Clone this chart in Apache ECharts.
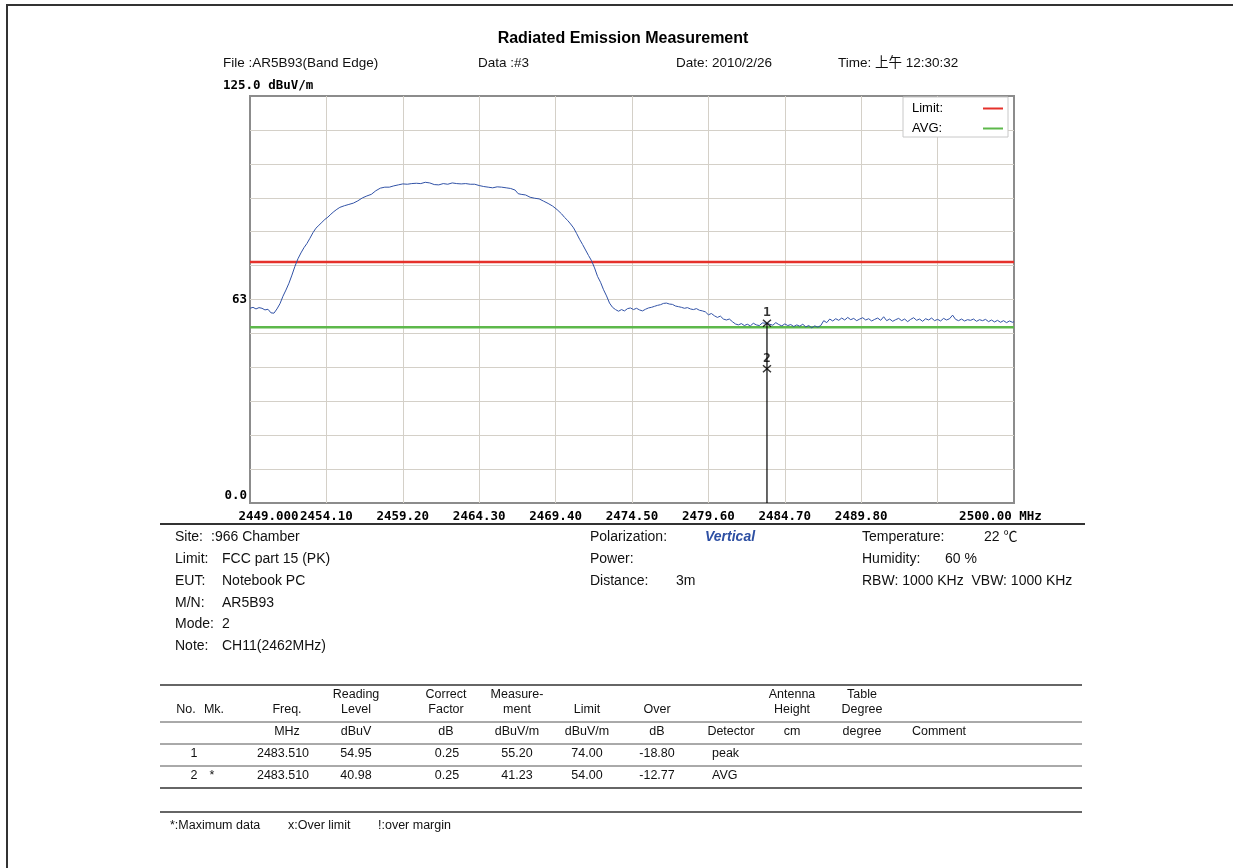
<!DOCTYPE html>
<html>
<head>
<meta charset="utf-8">
<title>Radiated Emission Measurement</title>
<script src="https://cdn.jsdelivr.net/npm/echarts@6/dist/echarts.min.js"></script>
<style>
  html, body { margin: 0; padding: 0; background: #fff; }
  #chart { width: 1233px; height: 868px; }
</style>
</head>
<body>
<div id="chart"></div>
<script>
// spectrum trace: [MHz, dBuV/m]
var trace = [
  [2449.0, 59.8], [2449.2, 60.1], [2449.4, 59.6], [2449.6, 60.0], [2449.8, 59.8], [2450.0, 59.3],
  [2450.2, 59.5], [2450.4, 58.4], [2450.5, 58.9], [2450.6, 58.3], [2450.8, 59.6], [2451.0, 61.2],
  [2451.2, 63.5], [2451.4, 65.4], [2451.6, 67.5], [2451.8, 70.0], [2452.0, 72.7], [2452.2, 75.0],
  [2452.4, 76.8], [2452.6, 78.4], [2452.8, 79.7], [2453.0, 81.3], [2453.2, 83.0], [2453.4, 84.4],
  [2453.6, 85.3], [2453.8, 86.2], [2454.0, 87.1], [2454.2, 87.8], [2454.4, 88.7], [2454.6, 89.5],
  [2454.8, 90.2], [2455.0, 90.8], [2455.3, 91.3], [2455.6, 91.7], [2455.9, 92.1], [2456.2, 92.8],
  [2456.5, 93.7], [2456.8, 94.3], [2457.1, 94.8], [2457.4, 95.9], [2457.7, 96.7], [2458.0, 97.0],
  [2458.3, 97.0], [2458.6, 97.4], [2458.9, 97.7], [2459.2, 98.0], [2459.5, 97.9], [2459.8, 98.1],
  [2460.1, 98.2], [2460.4, 98.1], [2460.7, 98.5], [2461.0, 98.3], [2461.3, 97.8], [2461.6, 97.7],
  [2461.9, 98.1], [2462.2, 97.9], [2462.5, 98.3], [2462.8, 98.1], [2463.1, 98.0], [2463.4, 98.1],
  [2463.7, 97.9], [2464.0, 97.9], [2464.3, 97.5], [2464.6, 97.2], [2464.9, 97.0], [2465.2, 96.8],
  [2465.5, 97.1], [2465.8, 97.0], [2466.1, 96.8], [2466.4, 96.6], [2466.7, 96.1], [2466.9, 95.0],
  [2467.1, 94.8], [2467.4, 94.6], [2467.7, 93.9], [2468.0, 93.6], [2468.3, 93.4], [2468.6, 92.7],
  [2468.9, 92.0], [2469.2, 91.2], [2469.5, 90.1], [2469.8, 88.8], [2470.0, 87.7], [2470.2, 86.8],
  [2470.4, 85.7], [2470.6, 84.5], [2470.8, 82.8], [2471.0, 81.0], [2471.2, 79.4], [2471.4, 77.7],
  [2471.6, 76.0], [2471.8, 74.4], [2472.0, 72.2], [2472.2, 69.6], [2472.4, 67.8], [2472.6, 65.5],
  [2472.8, 63.6], [2473.0, 61.4], [2473.2, 60.1], [2473.4, 59.4], [2473.6, 58.9], [2473.8, 59.4],
  [2474.0, 59.0], [2474.2, 59.7], [2474.4, 59.9], [2474.6, 59.4], [2474.8, 59.8], [2475.0, 59.3],
  [2475.2, 59.0], [2475.4, 59.5], [2475.6, 59.9], [2475.8, 60.1], [2476.0, 60.4], [2476.2, 60.7],
  [2476.4, 60.9], [2476.6, 61.3], [2476.8, 61.4], [2477.0, 61.1], [2477.2, 61.0], [2477.4, 60.5],
  [2477.6, 60.3], [2477.8, 60.1], [2478.0, 59.8], [2478.2, 60.0], [2478.4, 59.6], [2478.6, 59.4],
  [2478.8, 59.7], [2479.0, 59.2], [2479.2, 59.0], [2479.4, 58.7], [2479.6, 57.8], [2479.8, 58.2],
  [2480.0, 57.5], [2480.2, 57.0], [2480.4, 57.4], [2480.6, 56.5], [2480.8, 56.2], [2481.0, 56.5],
  [2481.2, 55.7], [2481.4, 55.0], [2481.6, 54.7], [2481.8, 55.1], [2482.0, 54.5], [2482.2, 54.9],
  [2482.4, 54.4], [2482.6, 55.2], [2482.8, 54.7], [2483.0, 54.5], [2483.2, 55.3], [2483.5, 55.2],
  [2483.7, 54.9], [2483.9, 54.6], [2484.1, 55.4], [2484.3, 54.8], [2484.5, 54.4], [2484.7, 55.0],
  [2484.9, 54.5], [2485.1, 54.8], [2485.3, 54.2], [2485.5, 54.7], [2485.7, 54.3], [2485.9, 54.9],
  [2486.1, 54.1], [2486.3, 54.5], [2486.5, 53.8], [2486.7, 54.4], [2486.9, 54.0], [2487.1, 54.5],
  [2487.3, 56.0], [2487.5, 55.4], [2487.7, 56.5], [2487.9, 55.9], [2488.1, 56.6], [2488.3, 56.1],
  [2488.5, 56.8], [2488.7, 56.2], [2488.9, 57.0], [2489.1, 56.3], [2489.3, 56.7], [2489.5, 56.0],
  [2489.7, 56.5], [2489.9, 56.9], [2490.1, 56.2], [2490.3, 56.6], [2490.5, 55.9], [2490.7, 56.4],
  [2490.9, 56.8], [2491.1, 56.1], [2491.3, 57.2], [2491.5, 56.0], [2491.7, 56.5], [2491.9, 55.8],
  [2492.1, 56.3], [2492.3, 56.7], [2492.5, 56.0], [2492.7, 56.5], [2492.9, 55.7], [2493.1, 56.4],
  [2493.3, 56.9], [2493.5, 56.1], [2493.7, 56.5], [2493.9, 55.8], [2494.1, 56.6], [2494.3, 56.2],
  [2494.5, 56.8], [2494.7, 56.0], [2494.9, 56.4], [2495.1, 55.9], [2495.3, 56.7], [2495.5, 56.2],
  [2495.7, 56.6], [2495.9, 57.7], [2496.1, 56.4], [2496.3, 56.0], [2496.5, 56.5], [2496.7, 55.9],
  [2496.9, 56.3], [2497.1, 56.1], [2497.3, 56.5], [2497.5, 55.8], [2497.7, 56.3], [2497.9, 56.0],
  [2498.1, 56.4], [2498.3, 55.7], [2498.5, 56.2], [2498.7, 55.6], [2498.9, 56.1], [2499.1, 55.5],
  [2499.3, 56.0], [2499.5, 55.4], [2499.7, 55.9], [2499.9, 55.5], [2500.0, 55.7]
];

var limitLine = [[2449, 74], [2500, 74]];
var avgLine = [[2449, 54], [2500, 54]];
// markers: [MHz, level, label]
var markers = [[2483.51, 55.20, '1'], [2483.51, 41.23, '2']];

var xTickLabels = ['2449.000', '2454.10', '2459.20', '2464.30', '2469.40', '2474.50',
  '2479.60', '2484.70', '2489.80', '', '2500.00 MHz'];

var header = ['File :AR5B93(Band Edge)', 'Data :#3', 'Date: 2010/2/26', 'Time: 上午 12:30:32'];

var info1 = [['Site:', ':966 Chamber'], ['Limit:', 'FCC part 15 (PK)'], ['EUT:', 'Notebook PC'],
  ['M/N:', 'AR5B93'], ['Mode:', '2'], ['Note:', 'CH11(2462MHz)']];
var info2 = [['Polarization:', 'Vertical'], ['Power:', ''], ['Distance:', '3m']];
var info3 = [['Temperature:', '22 ℃'], ['Humidity:', '60 %'], ['RBW: 1000 KHz  VBW: 1000 KHz', '']];

var tableHead1 = ['', '', '', 'Reading', 'Correct', 'Measure-', '', '', '', 'Antenna', 'Table', ''];
var tableHead2 = ['No.', 'Mk.', 'Freq.', 'Level', 'Factor', 'ment', 'Limit', 'Over', '', 'Height', 'Degree', ''];
var tableUnits = ['', '', 'MHz', 'dBuV', 'dB', 'dBuV/m', 'dBuV/m', 'dB', 'Detector', 'cm', 'degree', 'Comment'];
var tableRows = [
  ['1', '', '2483.510', '54.95', '0.25', '55.20', '74.00', '-18.80', 'peak'],
  ['2', '*', '2483.510', '40.98', '0.25', '41.23', '54.00', '-12.77', 'AVG']
];
var footNotes = ['*:Maximum data', 'x:Over limit', '!:over margin'];

var SANS = "'Liberation Sans', Arial, 'Noto Sans CJK SC', sans-serif";
var MONO = "'DejaVu Sans Mono', 'Liberation Mono', monospace";

function txt (x, y, text, o) {
  o = o || {};
  return {
    type: 'text', x: x, y: y, silent: true,
    style: {
      text: text,
      fill: o.color || '#111',
      font: (o.italic ? 'italic ' : '') + (o.bold ? 'bold ' : '') + (o.size || 13) + 'px ' + (o.family || SANS),
      align: o.align || 'left',
      verticalAlign: 'middle'
    }
  };
}
function hline (x1, x2, y, w, c) {
  return { type: 'line', silent: true, shape: { x1: x1, y1: y, x2: x2, y2: y },
    style: { stroke: c || '#333', lineWidth: w || 1 } };
}

var g = [];
// page frame
g.push({ type: 'polyline', silent: true, shape: { points: [[7, 868], [7, 5], [1233, 5]] },
  style: { stroke: '#333', lineWidth: 2, fill: null } });
g.push(txt(623, 39, 'Radiated Emission Measurement', { bold: true, size: 16, align: 'center', color: '#000' }));
var headX = [223, 478, 676, 838];
header.forEach(function (h, i) { g.push(txt(headX[i], 63, h, { size: 13.5 })); });
g.push(txt(223, 86, '125.0 dBuV/m', { bold: true, size: 12.5, family: MONO, color: '#000' }));

// info block
g.push(hline(160, 1085, 524, 2, '#333'));
var rowY = [537, 559, 581, 603, 624, 646];
info1.forEach(function (r, i) {
  g.push(txt(175, rowY[i], r[0], { size: 14 }));
  g.push(txt(i === 0 ? 211 : 222, rowY[i], r[1], { size: 14 }));
});
info2.forEach(function (r, i) {
  g.push(txt(590, rowY[i], r[0], { size: 14 }));
  if (i === 0) g.push(txt(705, rowY[i], r[1], { bold: true, italic: true, size: 14, color: '#2d4fa3' }));
  else g.push(txt(676, rowY[i], r[1], { size: 14 }));
});
info3.forEach(function (r, i) {
  g.push(txt(862, rowY[i], r[0], { size: 14 }));
  if (r[1]) g.push(txt(i === 0 ? 984 : 945, rowY[i], r[1], { size: 14 }));
});

// result table
var headCx = [186, 214, 287, 356, 446, 517, 587, 657, 731, 792, 862, 939];
var rowCx = [194, 212, 283, 356, 447, 517, 587, 657, 712];
[685, 788, 812].forEach(function (y) { g.push(hline(160, 1082, y, 1.5, '#333')); });
[722, 744, 766].forEach(function (y) { g.push(hline(160, 1082, y, 1, '#555')); });
tableHead1.forEach(function (t, i) { if (t) g.push(txt(headCx[i], 695, t, { size: 12.5, align: 'center' })); });
tableHead2.forEach(function (t, i) { if (t) g.push(txt(headCx[i], 710, t, { size: 12.5, align: 'center' })); });
tableUnits.forEach(function (t, i) { if (t) g.push(txt(headCx[i], 732, t, { size: 12.5, align: 'center' })); });
tableRows.forEach(function (r, j) {
  r.forEach(function (t, i) {
    if (t) g.push(txt(rowCx[i], 754 + j * 22, t, { size: 12.5, align: i === 8 ? 'left' : 'center' }));
  });
});
var footX = [170, 288, 378];
footNotes.forEach(function (t, i) { g.push(txt(footX[i], 826, t, { size: 12.5 })); });

var chart = echarts.init(document.getElementById('chart'));
var splitStyle = { color: '#d4d0c8', width: 1 };
chart.setOption({
  animation: false,
  grid: { left: 250, top: 96, width: 764, height: 407, show: true, borderColor: '#8c8c8c', borderWidth: 2 },
  legend: {
    left: 903, top: 97, orient: 'vertical', align: 'right', icon: 'rect',
    itemWidth: 20, itemHeight: 2, itemGap: 7, padding: [5, 5, 2, 9],
    borderColor: '#c8c8c8', borderWidth: 1, backgroundColor: '#fff', selectedMode: false,
    formatter: function (name) { return '{a|' + name + '}'; },
    textStyle: {
      fontFamily: SANS, fontSize: 13, color: '#000',
      rich: { a: { fontFamily: SANS, fontSize: 13, color: '#000', width: 66, align: 'left', lineHeight: 14 } }
    },
    data: ['Limit:', 'AVG:']
  },
  xAxis: {
    type: 'value', min: 2449, max: 2500, interval: 5.1,
    axisLine: { show: false }, axisTick: { show: false },
    splitLine: { show: true, showMinLine: false, showMaxLine: false, lineStyle: splitStyle },
    axisLabel: {
      margin: 7, fontFamily: MONO, fontWeight: 'bold', fontSize: 12.5, color: '#000',
      formatter: function (v) {
        var k = Math.round((v - 2449) / 5.1);
        var s = xTickLabels[k] || '';
        if (k === 0) return '{first|' + s + '}';
        if (k === xTickLabels.length - 1) return '{last|' + s + '}';
        return s;
      },
      rich: {
        first: { fontFamily: MONO, fontWeight: 'bold', fontSize: 12.5, color: '#000', padding: [0, 0, 0, 37] },
        last: { fontFamily: MONO, fontWeight: 'bold', fontSize: 12.5, color: '#000', padding: [0, 27, 0, 0] }
      }
    }
  },
  yAxis: {
    type: 'value', min: 0, max: 125, interval: 125 / 12,
    axisLine: { show: false }, axisTick: { show: false },
    splitLine: { show: true, showMinLine: false, showMaxLine: false, lineStyle: splitStyle },
    axisLabel: {
      margin: 3, fontFamily: MONO, fontWeight: 'bold', fontSize: 12.5, color: '#000',
      formatter: function (v) {
        if (Math.abs(v - 62.5) < 0.01) return '63';
        if (v === 0) return '{z|0.0}';
        return '';
      },
      rich: { z: { fontFamily: MONO, fontWeight: 'bold', fontSize: 12.5, color: '#000', padding: [0, 0, 14, 0] } }
    }
  },
  series: [
    { name: 'Limit:', type: 'line', data: limitLine, symbol: 'none', z: 2,
      lineStyle: { color: '#e5312b', width: 2.5 }, itemStyle: { color: '#e5312b' } },
    { name: 'AVG:', type: 'line', data: avgLine, symbol: 'none', z: 2,
      lineStyle: { color: '#5db84b', width: 2.5 }, itemStyle: { color: '#5db84b' } },
    { name: 'Trace', type: 'line', data: trace, symbol: 'none', z: 3,
      lineStyle: { color: '#3152a6', width: 1 } },
    { name: 'MarkerLine', type: 'line', data: [[markers[0][0], markers[0][1]], [markers[0][0], 0]],
      symbol: 'none', z: 4, lineStyle: { color: '#000', width: 1.2 } },
    { name: 'Markers', type: 'scatter', data: markers, z: 5,
      symbol: 'path://M0,0L10,10M10,0L0,10', symbolSize: [8, 7],
      itemStyle: { color: 'none', borderColor: '#000', borderWidth: 1.3 },
      label: { show: true, position: 'top', distance: -2, fontFamily: MONO, fontWeight: 'bold',
        fontSize: 13, color: '#000', formatter: function (p) { return p.data[2]; } } }
  ],
  graphic: g
});
</script>
</body>
</html>
